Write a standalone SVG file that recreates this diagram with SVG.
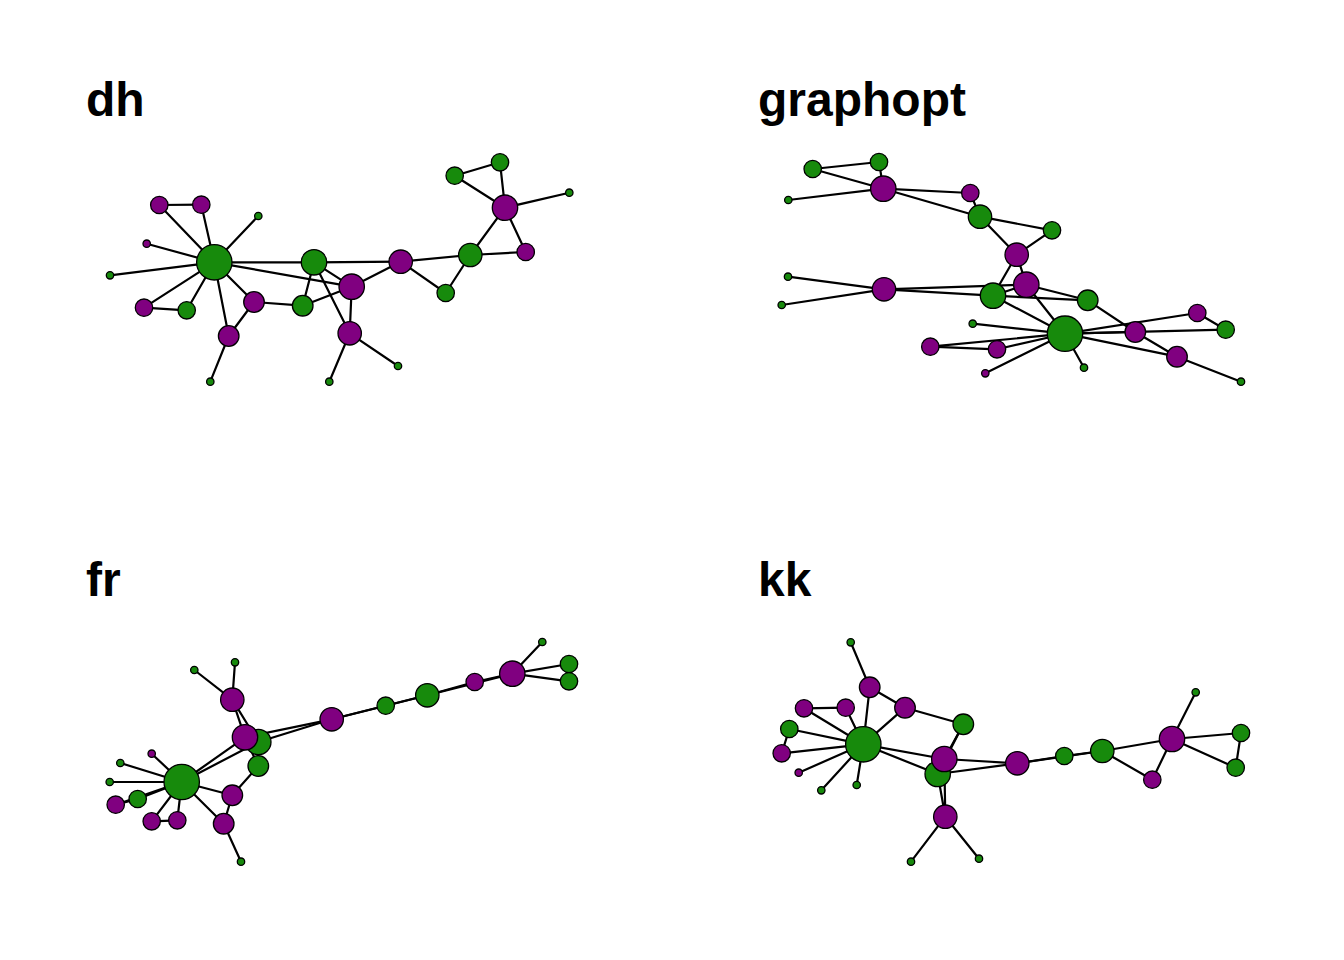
<svg xmlns="http://www.w3.org/2000/svg" width="1344" height="960" viewBox="0 0 1344 960">
<style>
.t{font-family:"Liberation Sans",Arial,sans-serif;font-weight:bold;font-size:48px;fill:#000}
.e line{stroke:#000;stroke-width:2.2;stroke-linecap:round}
circle{stroke:#000;stroke-width:1.3}
.g{fill:#178a0c}
.p{fill:#800080}
</style>
<rect width="1344" height="960" fill="#fff"/>

<!-- ===== dh ===== -->
<g id="panel-dh">
<text class="t" x="86" y="116">dh</text>
<g id="dh-edges" class="e">
<line x1="214.3" y1="262.3" x2="159.3" y2="205"/>
<line x1="214.3" y1="262.3" x2="201.3" y2="204.7"/>
<line x1="159.3" y1="205" x2="201.3" y2="204.7"/>
<line x1="214.3" y1="262.3" x2="258.3" y2="216"/>
<line x1="214.3" y1="262.3" x2="146.7" y2="243.7"/>
<line x1="214.3" y1="262.3" x2="110" y2="275.3"/>
<line x1="214.3" y1="262.3" x2="144" y2="307.7"/>
<line x1="214.3" y1="262.3" x2="186.7" y2="310.3"/>
<line x1="144" y1="307.7" x2="186.7" y2="310.3"/>
<line x1="214.3" y1="262.3" x2="228.7" y2="336"/>
<line x1="214.3" y1="262.3" x2="254" y2="302"/>
<line x1="228.7" y1="336" x2="254" y2="302"/>
<line x1="228.7" y1="336" x2="210.3" y2="381.7"/>
<line x1="214.3" y1="262.3" x2="314" y2="262.3"/>
<line x1="214.3" y1="262.3" x2="351.7" y2="286.7"/>
<line x1="254" y1="302" x2="302.7" y2="305.7"/>
<line x1="302.7" y1="305.7" x2="314" y2="262.3"/>
<line x1="302.7" y1="305.7" x2="351.7" y2="286.7"/>
<line x1="314" y1="262.3" x2="400.7" y2="261.7"/>
<line x1="314" y1="262.3" x2="351.7" y2="286.7"/>
<line x1="314" y1="262.3" x2="349.7" y2="333.3"/>
<line x1="351.7" y1="286.7" x2="349.7" y2="333.3"/>
<line x1="349.7" y1="333.3" x2="329.3" y2="381.7"/>
<line x1="349.7" y1="333.3" x2="398" y2="366"/>
<line x1="351.7" y1="286.7" x2="400.7" y2="261.7"/>
<line x1="400.7" y1="261.7" x2="445.7" y2="293"/>
<line x1="400.7" y1="261.7" x2="470.3" y2="255"/>
<line x1="470.3" y1="255" x2="445.7" y2="293"/>
<line x1="470.3" y1="255" x2="525.7" y2="252"/>
<line x1="470.3" y1="255" x2="505" y2="207.7"/>
<line x1="505" y1="207.7" x2="525.7" y2="252"/>
<line x1="505" y1="207.7" x2="454.7" y2="175.7"/>
<line x1="505" y1="207.7" x2="500" y2="162.3"/>
<line x1="454.7" y1="175.7" x2="500" y2="162.3"/>
<line x1="505" y1="207.7" x2="569.3" y2="192.7"/>
</g>
<g id="dh-A"><circle class="g" cx="214.3" cy="262.3" r="17.7"/></g>
<g id="dh-B"><circle class="g" cx="314" cy="262.3" r="12.7"/></g>
<g id="dh-C"><circle class="p" cx="400.7" cy="261.7" r="11.7"/></g>
<g id="dh-D"><circle class="p" cx="351.7" cy="286.7" r="12.7"/></g>
<g id="dh-E"><circle class="g" cx="302.7" cy="305.7" r="10.3"/></g>
<g id="dh-F"><circle class="p" cx="254" cy="302" r="10.3"/></g>
<g id="dh-G"><circle class="p" cx="228.7" cy="336" r="10.3"/></g>
<g id="dh-H"><circle class="p" cx="349.7" cy="333.3" r="11.7"/></g>
<g id="dh-I"><circle class="g" cx="210.3" cy="381.7" r="3.7"/></g>
<g id="dh-J"><circle class="g" cx="329.3" cy="381.7" r="3.7"/></g>
<g id="dh-K"><circle class="g" cx="398" cy="366" r="3.7"/></g>
<g id="dh-L"><circle class="p" cx="144" cy="307.7" r="8.7"/></g>
<g id="dh-M"><circle class="g" cx="186.7" cy="310.3" r="8.7"/></g>
<g id="dh-N"><circle class="g" cx="110" cy="275.3" r="3.7"/></g>
<g id="dh-O"><circle class="p" cx="146.7" cy="243.7" r="3.7"/></g>
<g id="dh-P"><circle class="g" cx="258.3" cy="216" r="3.7"/></g>
<g id="dh-Q"><circle class="p" cx="159.3" cy="205" r="8.7"/></g>
<g id="dh-R"><circle class="p" cx="201.3" cy="204.7" r="8.7"/></g>
<g id="dh-S"><circle class="g" cx="470.3" cy="255" r="11.7"/></g>
<g id="dh-T"><circle class="g" cx="445.7" cy="293" r="8.7"/></g>
<g id="dh-U"><circle class="p" cx="525.7" cy="252" r="8.7"/></g>
<g id="dh-V"><circle class="p" cx="505" cy="207.7" r="12.7"/></g>
<g id="dh-W"><circle class="g" cx="454.7" cy="175.7" r="8.7"/></g>
<g id="dh-X"><circle class="g" cx="500" cy="162.3" r="8.7"/></g>
<g id="dh-Y"><circle class="g" cx="569.3" cy="192.7" r="3.7"/></g>
</g>

<!-- ===== graphopt ===== -->
<g id="panel-graphopt">
<text class="t" x="758" y="116">graphopt</text>
<g id="go-edges" class="e">
<line x1="1065" y1="333.7" x2="930.3" y2="346.7"/>
<line x1="1065" y1="333.7" x2="997" y2="349.3"/>
<line x1="930.3" y1="346.7" x2="997" y2="349.3"/>
<line x1="1065" y1="333.7" x2="1084" y2="367.7"/>
<line x1="1065" y1="333.7" x2="985.3" y2="373.3"/>
<line x1="1065" y1="333.7" x2="972.7" y2="323.7"/>
<line x1="1065" y1="333.7" x2="1197.3" y2="313"/>
<line x1="1065" y1="333.7" x2="1225.7" y2="329.7"/>
<line x1="1197.3" y1="313" x2="1225.7" y2="329.7"/>
<line x1="1065" y1="333.7" x2="1177" y2="356.7"/>
<line x1="1065" y1="333.7" x2="1135.3" y2="332"/>
<line x1="1177" y1="356.7" x2="1135.3" y2="332"/>
<line x1="1177" y1="356.7" x2="1241" y2="381.7"/>
<line x1="1065" y1="333.7" x2="993" y2="295.7"/>
<line x1="1065" y1="333.7" x2="1026.3" y2="284.7"/>
<line x1="1135.3" y1="332" x2="1087.7" y2="300.3"/>
<line x1="1087.7" y1="300.3" x2="993" y2="295.7"/>
<line x1="1087.7" y1="300.3" x2="1026.3" y2="284.7"/>
<line x1="993" y1="295.7" x2="1016.7" y2="254.7"/>
<line x1="993" y1="295.7" x2="1026.3" y2="284.7"/>
<line x1="993" y1="295.7" x2="884" y2="289.3"/>
<line x1="1026.3" y1="284.7" x2="884" y2="289.3"/>
<line x1="884" y1="289.3" x2="788" y2="276.7"/>
<line x1="884" y1="289.3" x2="781.7" y2="305"/>
<line x1="1026.3" y1="284.7" x2="1016.7" y2="254.7"/>
<line x1="1016.7" y1="254.7" x2="1052" y2="230.3"/>
<line x1="1016.7" y1="254.7" x2="980" y2="216.7"/>
<line x1="980" y1="216.7" x2="1052" y2="230.3"/>
<line x1="980" y1="216.7" x2="970.3" y2="193"/>
<line x1="980" y1="216.7" x2="883.3" y2="188.7"/>
<line x1="883.3" y1="188.7" x2="970.3" y2="193"/>
<line x1="883.3" y1="188.7" x2="812.7" y2="169"/>
<line x1="883.3" y1="188.7" x2="879" y2="162"/>
<line x1="812.7" y1="169" x2="879" y2="162"/>
<line x1="883.3" y1="188.7" x2="788.3" y2="200"/>
</g>
<g id="go-A"><circle class="g" cx="1065" cy="333.7" r="17.7"/></g>
<g id="go-B"><circle class="g" cx="993" cy="295.7" r="12.7"/></g>
<g id="go-C"><circle class="p" cx="1016.7" cy="254.7" r="11.7"/></g>
<g id="go-D"><circle class="p" cx="1026.3" cy="284.7" r="12.7"/></g>
<g id="go-E"><circle class="g" cx="1087.7" cy="300.3" r="10.3"/></g>
<g id="go-F"><circle class="p" cx="1135.3" cy="332" r="10.3"/></g>
<g id="go-G"><circle class="p" cx="1177" cy="356.7" r="10.3"/></g>
<g id="go-H"><circle class="p" cx="884" cy="289.3" r="11.7"/></g>
<g id="go-I"><circle class="g" cx="1241" cy="381.7" r="3.7"/></g>
<g id="go-J"><circle class="g" cx="788" cy="276.7" r="3.7"/></g>
<g id="go-K"><circle class="g" cx="781.7" cy="305" r="3.7"/></g>
<g id="go-L"><circle class="p" cx="1197.3" cy="313" r="8.7"/></g>
<g id="go-M"><circle class="g" cx="1225.7" cy="329.7" r="8.7"/></g>
<g id="go-N"><circle class="g" cx="972.7" cy="323.7" r="3.7"/></g>
<g id="go-O"><circle class="p" cx="985.3" cy="373.3" r="3.7"/></g>
<g id="go-P"><circle class="g" cx="1084" cy="367.7" r="3.7"/></g>
<g id="go-Q"><circle class="p" cx="930.3" cy="346.7" r="8.7"/></g>
<g id="go-R"><circle class="p" cx="997" cy="349.3" r="8.7"/></g>
<g id="go-S"><circle class="g" cx="980" cy="216.7" r="11.7"/></g>
<g id="go-T"><circle class="g" cx="1052" cy="230.3" r="8.7"/></g>
<g id="go-U"><circle class="p" cx="970.3" cy="193" r="8.7"/></g>
<g id="go-V"><circle class="p" cx="883.3" cy="188.7" r="12.7"/></g>
<g id="go-W"><circle class="g" cx="812.7" cy="169" r="8.7"/></g>
<g id="go-X"><circle class="g" cx="879" cy="162" r="8.7"/></g>
<g id="go-Y"><circle class="g" cx="788.3" cy="200" r="3.7"/></g>
</g>

<!-- ===== fr ===== -->
<g id="panel-fr">
<text class="t" x="86" y="596">fr</text>
<g id="fr-edges" class="e">
<line x1="181.7" y1="782" x2="151.7" y2="821.3"/>
<line x1="181.7" y1="782" x2="177.3" y2="820.3"/>
<line x1="151.7" y1="821.3" x2="177.3" y2="820.3"/>
<line x1="181.7" y1="782" x2="120.3" y2="763"/>
<line x1="181.7" y1="782" x2="151.7" y2="753.7"/>
<line x1="181.7" y1="782" x2="109.7" y2="782"/>
<line x1="181.7" y1="782" x2="115.7" y2="804.7"/>
<line x1="181.7" y1="782" x2="137.7" y2="799"/>
<line x1="115.7" y1="804.7" x2="137.7" y2="799"/>
<line x1="181.7" y1="782" x2="223.7" y2="823.7"/>
<line x1="181.7" y1="782" x2="232.3" y2="795.3"/>
<line x1="223.7" y1="823.7" x2="232.3" y2="795.3"/>
<line x1="223.7" y1="823.7" x2="241" y2="861.7"/>
<line x1="181.7" y1="782" x2="258.3" y2="742"/>
<line x1="181.7" y1="782" x2="245" y2="737.3"/>
<line x1="232.3" y1="795.3" x2="258.3" y2="766"/>
<line x1="258.3" y1="766" x2="258.3" y2="742"/>
<line x1="258.3" y1="766" x2="245" y2="737.3"/>
<line x1="258.3" y1="742" x2="331.7" y2="719.3"/>
<line x1="258.3" y1="742" x2="245" y2="737.3"/>
<line x1="258.3" y1="742" x2="232.3" y2="699.7"/>
<line x1="245" y1="737.3" x2="232.3" y2="699.7"/>
<line x1="232.3" y1="699.7" x2="194.3" y2="670"/>
<line x1="232.3" y1="699.7" x2="235" y2="662.3"/>
<line x1="245" y1="737.3" x2="331.7" y2="719.3"/>
<line x1="331.7" y1="719.3" x2="385.7" y2="705.7"/>
<line x1="331.7" y1="719.3" x2="427.3" y2="695.3"/>
<line x1="427.3" y1="695.3" x2="385.7" y2="705.7"/>
<line x1="427.3" y1="695.3" x2="474.7" y2="682"/>
<line x1="427.3" y1="695.3" x2="512.3" y2="673.7"/>
<line x1="512.3" y1="673.7" x2="474.7" y2="682"/>
<line x1="512.3" y1="673.7" x2="569" y2="664"/>
<line x1="512.3" y1="673.7" x2="569" y2="681.3"/>
<line x1="569" y1="664" x2="569" y2="681.3"/>
<line x1="512.3" y1="673.7" x2="542.3" y2="642"/>
</g>
<g id="fr-A"><circle class="g" cx="181.7" cy="782" r="17.7"/></g>
<g id="fr-B"><circle class="g" cx="258.3" cy="742" r="12.7"/></g>
<g id="fr-C"><circle class="p" cx="331.7" cy="719.3" r="11.7"/></g>
<g id="fr-D"><circle class="p" cx="245" cy="737.3" r="12.7"/></g>
<g id="fr-E"><circle class="g" cx="258.3" cy="766" r="10.3"/></g>
<g id="fr-F"><circle class="p" cx="232.3" cy="795.3" r="10.3"/></g>
<g id="fr-G"><circle class="p" cx="223.7" cy="823.7" r="10.3"/></g>
<g id="fr-H"><circle class="p" cx="232.3" cy="699.7" r="11.7"/></g>
<g id="fr-I"><circle class="g" cx="241" cy="861.7" r="3.7"/></g>
<g id="fr-J"><circle class="g" cx="194.3" cy="670" r="3.7"/></g>
<g id="fr-K"><circle class="g" cx="235" cy="662.3" r="3.7"/></g>
<g id="fr-L"><circle class="p" cx="115.7" cy="804.7" r="8.7"/></g>
<g id="fr-M"><circle class="g" cx="137.7" cy="799" r="8.7"/></g>
<g id="fr-N"><circle class="g" cx="109.7" cy="782" r="3.7"/></g>
<g id="fr-O"><circle class="p" cx="151.7" cy="753.7" r="3.7"/></g>
<g id="fr-P"><circle class="g" cx="120.3" cy="763" r="3.7"/></g>
<g id="fr-Q"><circle class="p" cx="151.7" cy="821.3" r="8.7"/></g>
<g id="fr-R"><circle class="p" cx="177.3" cy="820.3" r="8.7"/></g>
<g id="fr-S"><circle class="g" cx="427.3" cy="695.3" r="11.7"/></g>
<g id="fr-T"><circle class="g" cx="385.7" cy="705.7" r="8.7"/></g>
<g id="fr-U"><circle class="p" cx="474.7" cy="682" r="8.7"/></g>
<g id="fr-V"><circle class="p" cx="512.3" cy="673.7" r="12.7"/></g>
<g id="fr-W"><circle class="g" cx="569" cy="664" r="8.7"/></g>
<g id="fr-X"><circle class="g" cx="569" cy="681.3" r="8.7"/></g>
<g id="fr-Y"><circle class="g" cx="542.3" cy="642" r="3.7"/></g>
</g>

<!-- ===== kk ===== -->
<g id="panel-kk">
<text class="t" x="758" y="596">kk</text>
<g id="kk-edges" class="e">
<line x1="863.3" y1="744.3" x2="804" y2="708.3"/>
<line x1="863.3" y1="744.3" x2="845.7" y2="707.7"/>
<line x1="804" y1="708.3" x2="845.7" y2="707.7"/>
<line x1="863.3" y1="744.3" x2="856.7" y2="785"/>
<line x1="863.3" y1="744.3" x2="798.7" y2="772.7"/>
<line x1="863.3" y1="744.3" x2="821.3" y2="790.3"/>
<line x1="863.3" y1="744.3" x2="781.7" y2="753.3"/>
<line x1="863.3" y1="744.3" x2="789.3" y2="729"/>
<line x1="781.7" y1="753.3" x2="789.3" y2="729"/>
<line x1="863.3" y1="744.3" x2="869.7" y2="687.3"/>
<line x1="863.3" y1="744.3" x2="905" y2="707.7"/>
<line x1="869.7" y1="687.3" x2="905" y2="707.7"/>
<line x1="869.7" y1="687.3" x2="850.7" y2="642.3"/>
<line x1="863.3" y1="744.3" x2="937.7" y2="774"/>
<line x1="863.3" y1="744.3" x2="944.3" y2="759"/>
<line x1="905" y1="707.7" x2="963.3" y2="724.3"/>
<line x1="963.3" y1="724.3" x2="937.7" y2="774"/>
<line x1="963.3" y1="724.3" x2="944.3" y2="759"/>
<line x1="937.7" y1="774" x2="1017.3" y2="763.3"/>
<line x1="937.7" y1="774" x2="944.3" y2="759"/>
<line x1="937.7" y1="774" x2="945.3" y2="816.7"/>
<line x1="944.3" y1="759" x2="945.3" y2="816.7"/>
<line x1="945.3" y1="816.7" x2="911" y2="861.7"/>
<line x1="945.3" y1="816.7" x2="979" y2="858.7"/>
<line x1="944.3" y1="759" x2="1017.3" y2="763.3"/>
<line x1="1017.3" y1="763.3" x2="1064.3" y2="756"/>
<line x1="1017.3" y1="763.3" x2="1102.3" y2="751"/>
<line x1="1102.3" y1="751" x2="1064.3" y2="756"/>
<line x1="1102.3" y1="751" x2="1152.3" y2="779.7"/>
<line x1="1102.3" y1="751" x2="1172" y2="739"/>
<line x1="1172" y1="739" x2="1152.3" y2="779.7"/>
<line x1="1172" y1="739" x2="1241" y2="733"/>
<line x1="1172" y1="739" x2="1235.7" y2="767.7"/>
<line x1="1241" y1="733" x2="1235.7" y2="767.7"/>
<line x1="1172" y1="739" x2="1195.7" y2="692.3"/>
</g>
<g id="kk-A"><circle class="g" cx="863.3" cy="744.3" r="17.7"/></g>
<g id="kk-B"><circle class="g" cx="937.7" cy="774" r="12.7"/></g>
<g id="kk-C"><circle class="p" cx="1017.3" cy="763.3" r="11.7"/></g>
<g id="kk-D"><circle class="p" cx="944.3" cy="759" r="12.7"/></g>
<g id="kk-E"><circle class="g" cx="963.3" cy="724.3" r="10.3"/></g>
<g id="kk-F"><circle class="p" cx="905" cy="707.7" r="10.3"/></g>
<g id="kk-G"><circle class="p" cx="869.7" cy="687.3" r="10.3"/></g>
<g id="kk-H"><circle class="p" cx="945.3" cy="816.7" r="11.7"/></g>
<g id="kk-I"><circle class="g" cx="850.7" cy="642.3" r="3.7"/></g>
<g id="kk-J"><circle class="g" cx="911" cy="861.7" r="3.7"/></g>
<g id="kk-K"><circle class="g" cx="979" cy="858.7" r="3.7"/></g>
<g id="kk-L"><circle class="p" cx="781.7" cy="753.3" r="8.7"/></g>
<g id="kk-M"><circle class="g" cx="789.3" cy="729" r="8.7"/></g>
<g id="kk-N"><circle class="g" cx="821.3" cy="790.3" r="3.7"/></g>
<g id="kk-O"><circle class="p" cx="798.7" cy="772.7" r="3.7"/></g>
<g id="kk-P"><circle class="g" cx="856.7" cy="785" r="3.7"/></g>
<g id="kk-Q"><circle class="p" cx="804" cy="708.3" r="8.7"/></g>
<g id="kk-R"><circle class="p" cx="845.7" cy="707.7" r="8.7"/></g>
<g id="kk-S"><circle class="g" cx="1102.3" cy="751" r="11.7"/></g>
<g id="kk-T"><circle class="g" cx="1064.3" cy="756" r="8.7"/></g>
<g id="kk-U"><circle class="p" cx="1152.3" cy="779.7" r="8.7"/></g>
<g id="kk-V"><circle class="p" cx="1172" cy="739" r="12.7"/></g>
<g id="kk-W"><circle class="g" cx="1241" cy="733" r="8.7"/></g>
<g id="kk-X"><circle class="g" cx="1235.7" cy="767.7" r="8.7"/></g>
<g id="kk-Y"><circle class="g" cx="1195.7" cy="692.3" r="3.7"/></g>
</g>
</svg>
